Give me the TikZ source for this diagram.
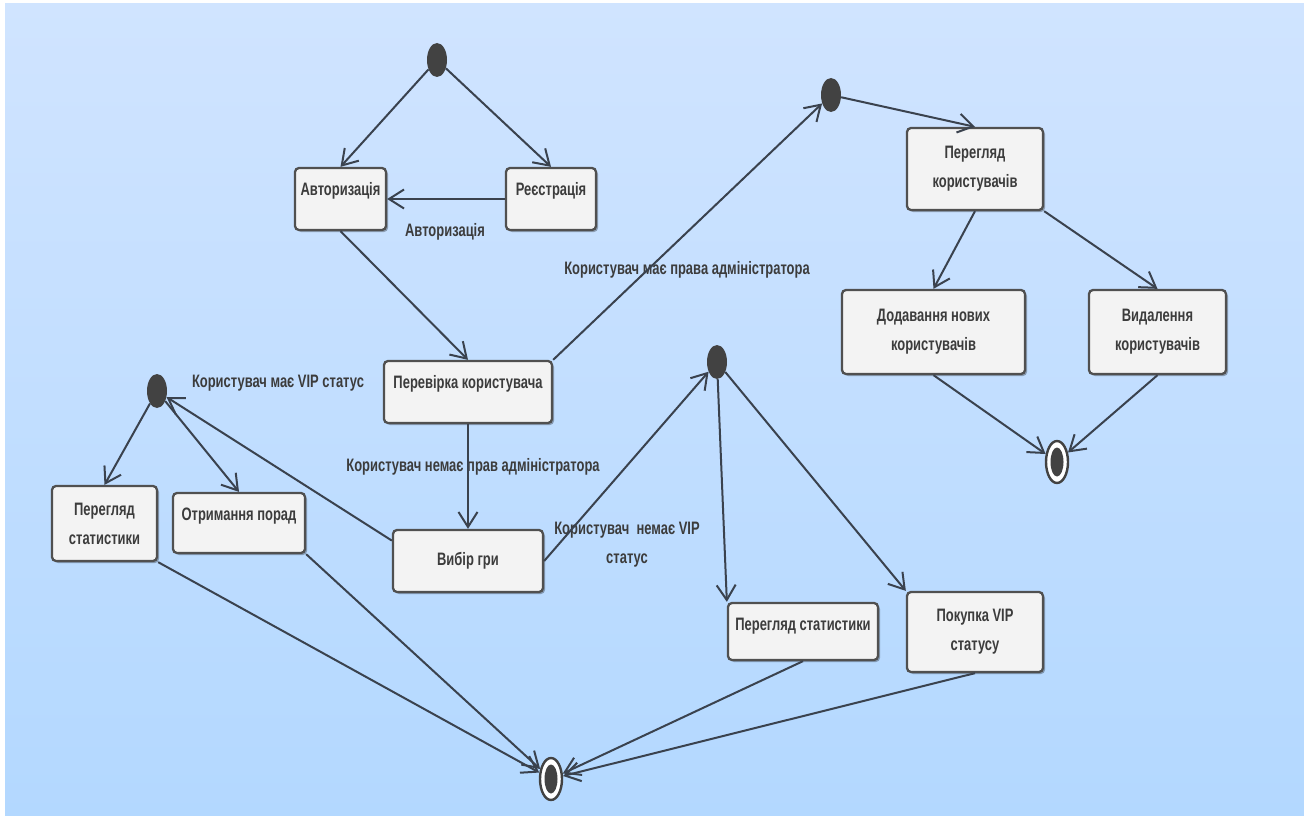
\documentclass[tikz,border=0pt]{standalone}
\usepackage{fontspec}
\setmainfont{Liberation Sans}[FakeStretch=0.72]
\usetikzlibrary{arrows.meta,shapes.geometric,shadows}

\definecolor{bgtop}{RGB}{208,228,255}
\definecolor{bgbot}{RGB}{179,216,255}
\definecolor{linecol}{RGB}{58,66,78}
\definecolor{boxline}{RGB}{80,80,80}
\definecolor{boxfill}{RGB}{243,243,243}
\definecolor{txtcol}{RGB}{60,60,60}
\definecolor{dotcol}{RGB}{66,66,66}
\newcommand{\statefont}{\fontsize{18}{29}\selectfont\bfseries}

\tikzset{
  state/.style={draw=boxline, line width=2.3pt, fill=boxfill, rounded corners=4pt,
    align=center, text=txtcol, font=\statefont, inner sep=2pt,
    drop shadow={shadow xshift=2pt, shadow yshift=-2pt, opacity=0.3, fill=black}},
  init/.style={ellipse, fill=dotcol, minimum width=20pt, minimum height=34pt, inner sep=0pt},
  final/.style={ellipse, draw=dotcol, line width=2.4pt, fill=white, minimum width=22pt,
    minimum height=42pt, inner sep=0pt},
  finalin/.style={ellipse, fill=dotcol, minimum width=13pt, minimum height=29pt, inner sep=0pt},
  guard/.style={text=txtcol, font=\statefont, align=center},
  trans/.style={draw=linecol, line width=2pt, -{Straight Barb[length=15pt,width=19pt]}}
}

\begin{document}
\begin{tikzpicture}[x=1pt, y=-1pt]
  % background
  \useasboundingbox (0,0) rectangle (1304,816);
  \fill[white] (0,0) rectangle (1304,816);
  \shade[top color=bgtop, bottom color=bgbot] (5,4) rectangle (1304,816);

  % start / end points
  \node[init] (start) at (437,60) {};
  \node[init] (admin) at (831,95) {};
  \node[init] (novip) at (717,362) {};
  \node[init] (vip) at (157,391) {};
  \node[final] (end) at (551,779) {};
  \node[finalin] (endin) at (end) {};
  \node[final] (endadm) at (1057,462) {};
  \node[finalin] (endadmin) at (endadm) {};

  % states
  \node[state, minimum width=91pt, minimum height=62pt, text depth=20pt] (auth) at (340.5,199) {Авторизація};
  \node[state, minimum width=90pt, minimum height=62pt, text depth=20pt] (reg) at (551,199) {Реєстрація};
  \node[state, minimum width=168pt, minimum height=62pt, text depth=20pt] (check) at (468,392) {Перевірка користувача};
  \node[state, minimum width=150pt, minimum height=62pt] (game) at (468,561) {Вибір гри};
  \node[state, minimum width=105pt, minimum height=75pt] (statl) at (104.5,523.5) {Перегляд\\статистики};
  \node[state, minimum width=132pt, minimum height=60pt, text depth=17pt] (tips) at (239,523) {Отримання порад};
  \node[state, minimum width=150pt, minimum height=57pt, text depth=14pt] (statr) at (803,631.5) {Перегляд статистики};
  \node[state, minimum width=136pt, minimum height=80pt] (buy) at (975,632) {Покупка VIP\\статусу};
  \node[state, minimum width=136pt, minimum height=82pt] (users) at (975,169) {Перегляд\\користувачів};
  \node[state, minimum width=183pt, minimum height=84pt] (add) at (933.5,332) {Додавання нових\\користувачів};
  \node[state, minimum width=137pt, minimum height=84pt] (del) at (1157.5,332) {Видалення\\користувачів};

  % guards
  \node[guard] (gauth) at (445,232) {Авторизація};
  \node[guard] (gadm) at (687,270) {Користувач має права адміністратора};
  \node[guard] (gnoadm) at (473,467) {Користувач немає прав адміністратора};
  \node[guard] (gvip) at (278,383) {Користувач має VIP статус};
  \node[guard] (gnovip) at (627,545) {Користувач\ \ немає VIP\\статус};

  % transitions
  \draw[trans] (start) -- (auth.north);
  \draw[trans] (start) -- (reg.north);
  \draw[trans] (reg) -- (auth);
  \draw[trans] (auth.south) -- (check.north);
  \draw[trans] (check.north east) -- (admin);
  \draw[trans] (check) -- (game);
  \draw[trans] (game.east) -- (novip);
  \draw[trans] (game.165) -- (vip);
  \draw[trans] (vip) -- (statl.north);
  \draw[trans] (vip) -- (tips.north);
  \draw[trans] (statl.south east) -- (end);
  \draw[trans] (tips.south east) -- (end);
  \draw[trans] (novip) -- (statr.north west);
  \draw[trans] (novip) -- (buy.north west);
  \draw[trans] (statr.south) -- (end);
  \draw[trans] (buy.south) -- (end);
  \draw[trans] (admin) -- (users.north);
  \draw[trans] (users.south) -- (add.north);
  \draw[trans] (users.south east) -- (del.north);
  \draw[trans] (add.south) -- (endadm);
  \draw[trans] (del.south) -- (endadm);
\end{tikzpicture}
\end{document}
